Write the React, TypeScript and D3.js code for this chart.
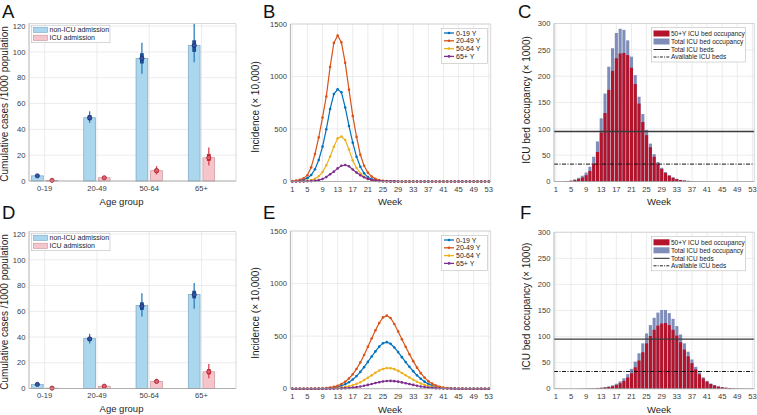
import React from 'react';
import * as d3 from 'd3';

// ---------------- DATA ----------------
const AGE_GROUPS = ['0-19', '20-49', '50-64', '65+'];

const A_NON_ICU = [4, 49, 95, 105];
const A_ICU = [0.5, 2.5, 8, 18];
// [low, q1, median, q3, high]
const A_NON_ICU_RANGE = [[3, 3.5, 4, 4.6, 5.2], [45, 47, 49, 51, 54], [83, 91, 95, 99, 107], [92, 100, 105, 109, 122]];
const A_ICU_RANGE = [[0, 0.2, 0.5, 0.8, 1.2], [1.5, 2, 2.5, 3, 3.6], [5, 6.5, 8, 9.5, 11.5], [12, 15.5, 18, 21, 26]];

const D_NON_ICU = [3, 39, 64.5, 73];
const D_ICU = [0.3, 1.8, 5.5, 13];
const D_NON_ICU_RANGE = [[2, 2.7, 3.2, 3.7, 4.5], [35, 37, 38.5, 40, 42.5], [56, 61, 64, 67, 74], [62, 70, 73, 76, 82]];
const D_ICU_RANGE = [[0, 0.1, 0.3, 0.5, 0.8], [1, 1.5, 1.8, 2.2, 2.8], [4, 4.8, 5.5, 6.3, 7.5], [8, 11, 13, 15, 19]];

const BAR_Y_TICKS = [0, 20, 40, 60, 80, 100, 120];
const WEEK_TICKS = [1, 5, 9, 13, 17, 21, 25, 29, 33, 37, 41, 45, 49, 53];
const INC_Y_TICKS = [0, 500, 1000, 1500];
const ICU_Y_TICKS = [0, 50, 100, 150, 200, 250, 300];

const SERIES_NAMES = ['0-19 Y', '20-49 Y', '50-64 Y', '65+ Y'];

const B_0_19 = [2, 5, 10, 18, 32, 62, 116, 205, 332, 497,
  690, 833, 878, 850, 705, 529, 370, 236, 141, 78,
  42, 22, 11, 6, 3, 2, 1, 1, 0, 0,
  0, 0, 0, 0, 0, 0, 0, 0, 0, 0,
  0, 0, 0, 0, 0, 0, 0, 0, 0, 0,
  0, 0, 0];
const B_20_49 = [4, 8, 16, 30, 60, 135, 262, 420, 610, 810,
  1090, 1320, 1390, 1325, 1130, 875, 625, 425, 255, 150,
  85, 48, 25, 13, 7, 4, 2, 1, 1, 0,
  0, 0, 0, 0, 0, 0, 0, 0, 0, 0,
  0, 0, 0, 0, 0, 0, 0, 0, 0, 0,
  0, 0, 0];
const B_50_64 = [1, 1, 2, 4, 7, 13, 25, 50, 90, 155,
  236, 331, 411, 428, 395, 305, 200, 128, 78, 44,
  24, 13, 7, 4, 2, 1, 1, 0, 0, 0,
  0, 0, 0, 0, 0, 0, 0, 0, 0, 0,
  0, 0, 0, 0, 0, 0, 0, 0, 0, 0,
  0, 0, 0];
const B_65 = [0, 0, 1, 1, 2, 4, 7, 13, 24, 42,
  69, 94, 125, 150, 157, 145, 115, 85, 60, 40,
  25, 15, 9, 5, 3, 2, 1, 1, 0, 0,
  0, 0, 0, 0, 0, 0, 0, 0, 0, 0,
  0, 0, 0, 0, 0, 0, 0, 0, 0, 0,
  0, 0, 0];

const E_0_19 = [0, 0, 0, 0, 0, 0, 1, 1, 2, 4,
  7, 11, 18, 28, 42, 62, 88, 120, 160, 205,
  255, 306, 355, 400, 433, 443, 428, 392, 348, 300,
  253, 208, 166, 127, 94, 67, 46, 30, 19, 12,
  7, 4, 3, 2, 1, 1, 0, 0, 0, 0,
  0, 0, 0];
const E_20_49 = [0, 0, 0, 0, 0, 1, 1, 2, 3, 6,
  10, 17, 28, 44, 66, 97, 137, 188, 250, 320,
  398, 478, 555, 625, 678, 695, 672, 615, 545, 470,
  398, 328, 262, 200, 148, 105, 72, 48, 31, 19,
  11, 7, 4, 2, 1, 1, 0, 0, 0, 0,
  0, 0, 0];
const E_50_64 = [0, 0, 0, 0, 0, 0, 0, 0, 1, 1,
  2, 4, 6, 10, 15, 23, 33, 46, 62, 82,
  104, 127, 152, 173, 188, 196, 195, 186, 170, 150,
  128, 106, 85, 66, 49, 36, 25, 17, 11, 7,
  5, 3, 2, 1, 1, 0, 0, 0, 0, 0,
  0, 0, 0];
const E_65 = [0, 0, 0, 0, 0, 0, 0, 0, 0, 0,
  1, 1, 2, 3, 5, 7, 11, 15, 21, 28,
  36, 45, 54, 62, 69, 73, 74, 72, 67, 60,
  52, 44, 36, 28, 21, 16, 11, 8, 5, 4,
  2, 2, 1, 1, 0, 0, 0, 0, 0, 0,
  0, 0, 0];

const C_TOTAL = [0, 0.2, 0.5, 1, 2, 4, 7, 11, 17, 28,
  47, 76, 120, 167, 218, 253, 282, 290, 288, 268,
  237, 202, 161, 128, 98, 72, 52, 37, 26, 18,
  12, 8, 5, 3, 2, 1.3, 0.8, 0.5, 0.3, 0.2,
  0.1, 0.1, 0, 0, 0, 0, 0, 0, 0, 0,
  0, 0, 0];
const C_50PLUS = [0, 0.1, 0.3, 0.6, 1.2, 2.5, 4.5, 7.5, 12, 20,
  34, 56, 93, 130, 174, 210, 234, 243, 244, 240,
  216, 185, 148, 113, 88, 65, 47, 34, 24, 16,
  11, 7, 4.5, 2.8, 1.8, 1.1, 0.7, 0.4, 0.25, 0.15,
  0.1, 0.05, 0, 0, 0, 0, 0, 0, 0, 0,
  0, 0, 0];
const F_TOTAL = [0, 0, 0, 0, 0, 0, 0.1, 0.3, 0.5, 0.7,
  1, 1.5, 2.2, 3.2, 4.5, 6.5, 9.5, 14, 20, 28,
  38, 52, 68, 87, 106, 122, 136, 146, 151, 151,
  145, 134, 120, 104, 87, 71, 56, 42, 31, 22,
  15, 10, 7, 4.5, 3, 2, 1.3, 0.8, 0.5, 0.3,
  0.2, 0.1, 0.1];
const F_50PLUS = [0, 0, 0, 0, 0, 0, 0.1, 0.2, 0.35, 0.5,
  0.7, 1, 1.5, 2.2, 3.2, 4.7, 7, 10.5, 15, 21.5,
  29.5, 41, 54, 70, 87, 101, 113, 121, 125, 126,
  122, 113, 102, 89, 75, 62, 49, 37, 27.5, 19.5,
  13.5, 9, 6.2, 4, 2.7, 1.8, 1.2, 0.7, 0.45, 0.28,
  0.18, 0.1, 0.08];

const TOTAL_ICU_BEDS = 95;
const AVAILABLE_ICU_BEDS = 33;

// ---------------- STYLE ----------------
const FONT = "'Liberation Sans', Arial, Helvetica, sans-serif";
const GRID = '#e4e4e4';
const AXIS = '#a0a0a0';
const TICK_TXT = '#3c3c3c';
const LABEL_TXT = '#1e1e1e';
const LINE_COLORS = ['#0072BD', '#D95319', '#EDB120', '#7E2F8E'];
const NONICU_FILL = '#aad7ee';
const NONICU_STROKE = '#7aa6bf';
const ICU_FILL = '#f6c5cc';
const ICU_STROKE = '#c9959c';
const RED = '#b3132b';
const SLATE = '#7f8eb8';

const WEEKS = d3.range(1, 54);

interface Frame { x0: number; x1: number; y0: number; y1: number }

function Frame({ f }: { f: Frame }) {
  return (
    <g>
      <line x1={f.x0} x2={f.x1} y1={f.y0} y2={f.y0} stroke="#cfcfcf" strokeWidth={0.8} />
      <line x1={f.x1} x2={f.x1} y1={f.y0} y2={f.y1} stroke="#cfcfcf" strokeWidth={0.8} />
      <line x1={f.x0} x2={f.x1} y1={f.y1} y2={f.y1} stroke={AXIS} strokeWidth={0.8} />
      <line x1={f.x0} x2={f.x0} y1={f.y0} y2={f.y1} stroke={AXIS} strokeWidth={0.8} />
    </g>
  );
}

function YLabel({ x, y, text }: { x: number; y: number; text: string }) {
  return (
    <text transform={`translate(${x},${y}) rotate(-90)`} textAnchor="middle" fontSize={10} fill={LABEL_TXT} fontFamily={FONT}>{text}</text>
  );
}

function Letter({ x, y, t }: { x: number; y: number; t: string }) {
  return <text x={x} y={y} fontSize={18.5} fill="#111" fontFamily={FONT}>{t}</text>;
}

function YTicks({ f, y, ticks }: { f: Frame; y: d3.ScaleLinear<number, number>; ticks: number[] }) {
  return (
    <g>
      {ticks.map(t => (
        <g key={t}>
          <line x1={f.x0} x2={f.x1} y1={y(t)} y2={y(t)} stroke={GRID} strokeWidth={0.7} />
          <text x={f.x0 - 3.5} y={y(t) + 2.7} textAnchor="end" fontSize={7.6} fill={TICK_TXT} fontFamily={FONT}>{t}</text>
        </g>
      ))}
    </g>
  );
}

// ------------- Panel A / D -------------
function BarPanel({ letter, letterY, f, nonIcu, icu, nonIcuRange, icuRange, yLabelY, xLabelY }: any) {
  const x = d3.scaleLinear().domain([0.7, 4.66]).range([f.x0, f.x1]);
  const y = d3.scaleLinear().domain([0, 122]).range([f.y1, f.y0]);
  const bw = x(0.225) - x(0);
  const off = x(0.14) - x(0);
  const marker = (cx: number, r: number[], thin: string, thick: string, dotFill: string, dotStroke: string, key: string) => (
    <g key={key}>
      <line x1={cx} x2={cx} y1={y(r[0])} y2={y(r[4])} stroke={thin} strokeWidth={1.3} />
      <rect x={cx - 1.9} width={3.8} y={y(r[3])} height={Math.max(1, y(r[1]) - y(r[3]))} fill={thick} />
      <circle cx={cx} cy={y(r[2])} r={2.1} fill={dotFill} stroke={dotStroke} strokeWidth={0.8} />
    </g>
  );
  return (
    <g>
      <Letter x={2} y={letterY} t={letter} />
      {AGE_GROUPS.map((g, i) => (
        <line key={g} x1={x(i + 1)} x2={x(i + 1)} y1={f.y0} y2={f.y1} stroke={GRID} strokeWidth={0.7} />
      ))}
      <YTicks f={f} y={y} ticks={BAR_Y_TICKS} />
      {AGE_GROUPS.map((g, i) => (
        <g key={g}>
          <rect x={x(i + 1) - off - bw / 2} width={bw} y={y(nonIcu[i])} height={y(0) - y(nonIcu[i])} fill={NONICU_FILL} stroke={NONICU_STROKE} strokeWidth={0.7} />
          <rect x={x(i + 1) + off - bw / 2} width={bw} y={y(icu[i])} height={y(0) - y(icu[i])} fill={ICU_FILL} stroke={ICU_STROKE} strokeWidth={0.7} />
        </g>
      ))}
      {AGE_GROUPS.map((g, i) => marker(x(i + 1) - off, nonIcuRange[i], '#2b7fbd', '#1d4f94', '#3656a8', '#1a2f70', 'n' + g))}
      {AGE_GROUPS.map((g, i) => marker(x(i + 1) + off, icuRange[i], '#d8434f', '#c8303e', '#e2606e', '#a51a2a', 'i' + g))}
      <Frame f={f} />
      {AGE_GROUPS.map((g, i) => (
        <text key={g} x={x(i + 1)} y={f.y1 + 9.8} textAnchor="middle" fontSize={7.6} fill={TICK_TXT} fontFamily={FONT}>{g}</text>
      ))}
      <text x={121.5} y={xLabelY} textAnchor="middle" fontSize={9.5} fill={LABEL_TXT} fontFamily={FONT}>Age group</text>
      <YLabel x={8} y={yLabelY} text="Cumulative cases /1000 population" />
      {/* legend */}
      <g>
        <rect x={f.x0 + 2.5} y={f.y0 + 1.7} width={78.5} height={17.5} fill="#fff" stroke="#bdbdbd" strokeWidth={0.6} />
        <rect x={f.x0 + 4.5} y={f.y0 + 3.7} width={14} height={5.3} fill={NONICU_FILL} stroke={NONICU_STROKE} strokeWidth={0.6} />
        <text x={f.x0 + 20.5} y={f.y0 + 8.8} fontSize={7} fill="#222" fontFamily={FONT}>non-ICU admission</text>
        <rect x={f.x0 + 4.5} y={f.y0 + 11.7} width={14} height={5.3} fill={ICU_FILL} stroke={ICU_STROKE} strokeWidth={0.6} />
        <text x={f.x0 + 20.5} y={f.y0 + 16.8} fontSize={7} fill="#222" fontFamily={FONT}>ICU admission</text>
      </g>
    </g>
  );
}

// ------------- Panel B / E -------------
function LinePanel({ letter, letterY, f, series, yLabelY, xLabelY }: any) {
  const x = d3.scaleLinear().domain([0.5, 53.5]).range([f.x0, f.x1]);
  const y = d3.scaleLinear().domain([0, 1500]).range([f.y1, f.y0]);
  const line = d3.line<number>().x((_, i) => x(WEEKS[i])).y(d => y(d)).curve(d3.curveLinear);
  const order = [0, 1, 2, 3];
  return (
    <g>
      <Letter x={263} y={letterY} t={letter} />
      {WEEK_TICKS.map(t => (
        <line key={t} x1={x(t)} x2={x(t)} y1={f.y0} y2={f.y1} stroke={GRID} strokeWidth={0.7} />
      ))}
      <YTicks f={f} y={y} ticks={INC_Y_TICKS} />
      {order.map(k => (
        <g key={k}>
          <path d={line(series[k]) || ''} fill="none" stroke={LINE_COLORS[k]} strokeWidth={1.2} />
          {series[k].map((v: number, i: number) => (
            <circle key={i} cx={x(WEEKS[i])} cy={y(v)} r={1.3} fill={LINE_COLORS[k]} />
          ))}
        </g>
      ))}
      <Frame f={f} />
      {WEEK_TICKS.map(t => (
        <text key={t} x={x(t)} y={f.y1 + 10} textAnchor="middle" fontSize={7.6} fill={TICK_TXT} fontFamily={FONT}>{t}</text>
      ))}
      <text x={390} y={xLabelY} textAnchor="middle" fontSize={9.5} fill={LABEL_TXT} fontFamily={FONT}>Week</text>
      <YLabel x={259} y={yLabelY} text="Incidence (× 10,000)" />
      <g>
        <rect x={441.5} y={f.y0 + 4.5} width={46} height={35} fill="#fff" stroke="#bdbdbd" strokeWidth={0.6} />
        {SERIES_NAMES.map((n, k) => {
          const ry = f.y0 + 9 + k * 7.8;
          return (
            <g key={n}>
              <line x1={444} x2={454} y1={ry} y2={ry} stroke={LINE_COLORS[k]} strokeWidth={1.3} />
              <circle cx={449} cy={ry} r={1.3} fill={LINE_COLORS[k]} />
              <text x={456} y={ry + 2.5} fontSize={7} fill="#222" fontFamily={FONT}>{n}</text>
            </g>
          );
        })}
      </g>
    </g>
  );
}

// ------------- Panel C / F -------------
function IcuPanel({ letter, letterX, letterY, f, total, older, yLabelY, xLabelY }: any) {
  const x = d3.scaleLinear().domain([0.5, 53.5]).range([f.x0, f.x1]);
  const y = d3.scaleLinear().domain([0, 300]).range([f.y1, f.y0]);
  const bw = (x(1) - x(0)) * 0.82;
  return (
    <g>
      <Letter x={letterX} y={letterY} t={letter} />
      {WEEK_TICKS.map(t => (
        <line key={t} x1={x(t)} x2={x(t)} y1={f.y0} y2={f.y1} stroke={GRID} strokeWidth={0.7} />
      ))}
      <YTicks f={f} y={y} ticks={ICU_Y_TICKS} />
      {total.map((v: number, i: number) => (
        <rect key={'t' + i} x={x(WEEKS[i]) - bw / 2} width={bw} y={y(v)} height={y(0) - y(v)} fill={SLATE} />
      ))}
      {older.map((v: number, i: number) => (
        <rect key={'o' + i} x={x(WEEKS[i]) - bw / 2} width={bw} y={y(v)} height={y(0) - y(v)} fill={RED} />
      ))}
      <line x1={f.x0} x2={f.x1} y1={y(TOTAL_ICU_BEDS)} y2={y(TOTAL_ICU_BEDS)} stroke="#3a3a3a" strokeWidth={1.4} />
      <line x1={f.x0} x2={f.x1} y1={y(AVAILABLE_ICU_BEDS)} y2={y(AVAILABLE_ICU_BEDS)} stroke="#111" strokeWidth={1} strokeDasharray="4 1.5 1 1.5" />
      <Frame f={f} />
      {WEEK_TICKS.map(t => (
        <text key={t} x={x(t)} y={f.y1 + 10} textAnchor="middle" fontSize={7.6} fill={TICK_TXT} fontFamily={FONT}>{t}</text>
      ))}
      <text x={659} y={xLabelY} textAnchor="middle" fontSize={9.5} fill={LABEL_TXT} fontFamily={FONT}>Week</text>
      <YLabel x={530} y={yLabelY} text="ICU bed occupancy (× 1000)" />
      <g>
        <rect x={651.5} y={f.y0 + 4} width={94} height={34.5} fill="#fff" stroke="#bdbdbd" strokeWidth={0.6} />
        <rect x={653.5} y={f.y0 + 7} width={16} height={6} fill={RED} />
        <text x={671} y={f.y0 + 12.2} fontSize={6.5} fill="#222" fontFamily={FONT}>50+Y ICU bed occupancy</text>
        <rect x={653.5} y={f.y0 + 15} width={16} height={6} fill={SLATE} />
        <text x={671} y={f.y0 + 20.2} fontSize={6.5} fill="#222" fontFamily={FONT}>Total ICU bed occupancy</text>
        <line x1={653.5} x2={669.5} y1={f.y0 + 26} y2={f.y0 + 26} stroke="#222" strokeWidth={1} />
        <text x={671} y={f.y0 + 28.2} fontSize={6.5} fill="#222" fontFamily={FONT}>Total ICU beds</text>
        <line x1={653.5} x2={669.5} y1={f.y0 + 33.5} y2={f.y0 + 33.5} stroke="#222" strokeWidth={1} strokeDasharray="3 1.2 1 1.2" />
        <text x={671} y={f.y0 + 35.9} fontSize={6.5} fill="#222" fontFamily={FONT}>Available ICU beds</text>
      </g>
    </g>
  );
}

export default function App() {
  const fA = { x0: 29, x1: 236, y0: 23.5, y1: 181 };
  const fD = { x0: 29, x1: 236, y0: 231.5, y1: 388.5 };
  const fB = { x0: 290.4, x1: 490.7, y0: 24, y1: 181.5 };
  const fE = { x0: 290.4, x1: 490.7, y0: 231, y1: 388.7 };
  const fC = { x0: 554, x1: 754.3, y0: 23.5, y1: 181.5 };
  const fF = { x0: 554, x1: 754.3, y0: 232.3, y1: 388.7 };
  return (
    <svg width={757} height={415} style={{ position: 'absolute', left: 0, top: 0, background: '#fff' }} fontFamily={FONT}>
      <rect x={0} y={0} width={757} height={415} fill="#fff" />
      <BarPanel letter="A" letterY={17.5} f={fA} nonIcu={A_NON_ICU} icu={A_ICU} nonIcuRange={A_NON_ICU_RANGE} icuRange={A_ICU_RANGE} yLabelY={104} xLabelY={204.5} />
      <BarPanel letter="D" letterY={219} f={fD} nonIcu={D_NON_ICU} icu={D_ICU} nonIcuRange={D_NON_ICU_RANGE} icuRange={D_ICU_RANGE} yLabelY={312} xLabelY={412} />
      <LinePanel letter="B" letterY={17.5} f={fB} series={[B_0_19, B_20_49, B_50_64, B_65]} yLabelY={107} xLabelY={205} />
      <LinePanel letter="E" letterY={219} f={fE} series={[E_0_19, E_20_49, E_50_64, E_65]} yLabelY={313} xLabelY={413} />
      <IcuPanel letter="C" letterX={518} letterY={17.5} f={fC} total={C_TOTAL} older={C_50PLUS} yLabelY={100} xLabelY={205} />
      <IcuPanel letter="F" letterX={520} letterY={219} f={fF} total={F_TOTAL} older={F_50PLUS} yLabelY={306.5} xLabelY={413} />
    </svg>
  );
}
